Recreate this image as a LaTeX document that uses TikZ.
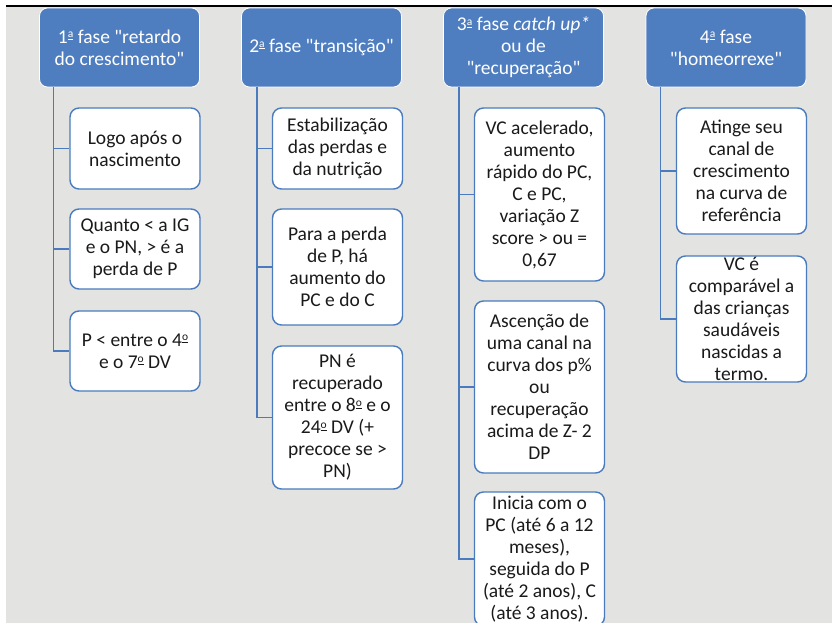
\documentclass[tikz,border=0pt]{standalone}
\usepackage{fontspec}
\setmainfont{Carlito}[Ligatures=TeXOff]
\usetikzlibrary{calc}
\definecolor{bggray}{HTML}{E3E3E2}
\definecolor{hblue}{HTML}{4F7EC0}
\definecolor{lblue}{HTML}{4A7BBF}
\definecolor{txt}{HTML}{1A1A1A}
% raised, underlined ordinal indicator (ª, º)
\newcommand{\ordind}[1]{\raisebox{5.5pt}{\fontsize{11.5}{11.5}\selectfont\underline{#1}}}
\tikzset{
  phase/.style={draw=white, line width=0.8pt, fill=hblue, rounded corners=8pt,
    text=white, align=center, inner sep=0pt, minimum width=160pt, minimum height=79pt,
    font=\fontsize{19.5}{22}\selectfont},
  item/.style={draw=lblue, line width=1.4pt, fill=white, rounded corners=9pt,
    text=txt, align=center, inner sep=0pt, minimum width=130pt,
    font=\fontsize{19.5}{22}\selectfont},
  link/.style={draw=lblue, line width=1.4pt}
}
\begin{document}
\begin{tikzpicture}[x=1pt,y=-1pt]
\useasboundingbox (0,0) rectangle (832,623);
\clip (0,0) rectangle (832,623);
% page background and top rule
\fill[white] (0,0) rectangle (832,623);
\fill[bggray] (6,7) rectangle (832,623);
\draw[black, line width=1.2pt] (6,6) -- (832,6);

% phase headers
\node[phase] (h1) at (119.5,47.5) {1\ordind{a} fase "retardo\\do crescimento"};
\node[phase] (h2) at (321.5,47.5) {2\ordind{a} fase "transição"};
\node[phase] (h3) at (523.5,47.5) {3\ordind{a} fase \textit{catch up*}\\ou de\\"recuperação"};
\node[phase] (h4) at (726,47.5) {4\ordind{a} fase\\"homeorrexe"};

% trunk anchors
\coordinate (t1) at ($(h1.south west)+(14.5,0)$);
\coordinate (t2) at ($(h2.south west)+(16,0)$);
\coordinate (t3) at ($(h3.south west)+(16,0)$);
\coordinate (t4) at ($(h4.south west)+(15,0)$);

% phase 1
\node[item, minimum height=81pt] (a1) at (135,148.5) {Logo após o\\nascimento};
\node[item, minimum height=80pt] (a2) at (135,249) {Quanto < a IG\\e o PN, > é a\\perda de P};
\node[item, minimum height=80pt] (a3) at (135,351) {P < entre o 4\ordind{o}\\e o 7\ordind{o} DV};

% phase 2
\node[item, minimum height=81pt] (b1) at (337.5,148.5) {Estabilização\\das perdas e\\da nutrição};
\node[item, minimum height=116pt] (b2) at (337.5,267) {Para a perda\\de P, há\\aumento do\\PC e do C};
\node[item, minimum height=143pt] (b3) at (337.5,417.5) {PN é\\recuperado\\entre o 8\ordind{o} e o\\24\ordind{o} DV (+\\precoce se >\\PN)};

% phase 3
\node[item, minimum height=173pt] (c1) at (539.5,194.5) {VC acelerado,\\aumento\\rápido do PC,\\C e PC,\\variação Z\\score > ou =\\0,67};
\node[item, minimum height=172pt] (c2) at (539.5,387) {Ascenção de\\uma canal na\\curva dos p\%\\ou\\recuperação\\acima de Z- 2\\DP};
\node[item, minimum height=134pt] (c3) at (539.5,559) {Inicia com o\\PC (até 6 a 12\\meses),\\seguida do P\\(até 2 anos), C\\(até 3 anos).};

% phase 4
\node[item, minimum height=126pt] (d1) at (741.5,171) {Atinge seu\\canal de\\crescimento\\na curva de\\referência};
\node[item, minimum height=126pt] (d2) at (741.5,319) {VC é\\comparável a\\das crianças\\saudáveis\\nascidas a\\termo.};

% connectors
\draw[link] (t1) |- (a1.west);
\draw[link] (t1) |- (a2.west);
\draw[link] (t1) |- (a3.west);
\draw[link] (t2) |- (b1.west);
\draw[link] (t2) |- (b2.west);
\draw[link] (t2) |- (b3.west);
\draw[link] (t3) |- (c1.west);
\draw[link] (t3) |- (c2.west);
\draw[link] (t3) |- (c3.west);
\draw[link] (t4) |- (d1.west);
\draw[link] (t4) |- (d2.west);
\end{tikzpicture}
\end{document}
